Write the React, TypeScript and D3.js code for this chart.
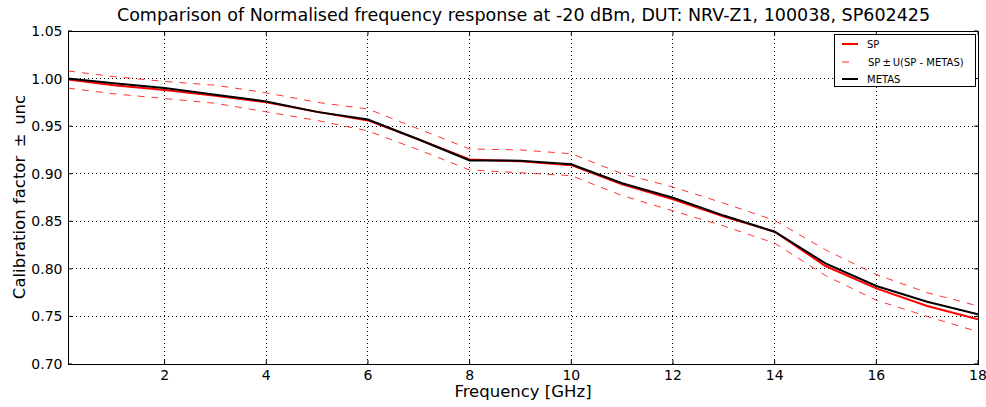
import React from "react";
import * as d3 from "d3";

const freqs = [0.1, 1, 2, 3, 4, 5, 6, 7, 8, 9, 10, 11, 12, 13, 14, 15, 16, 17, 18];
const spValues = [0.999, 0.993, 0.988, 0.982, 0.975, 0.965, 0.956, 0.936, 0.915, 0.913, 0.909, 0.889, 0.873, 0.855, 0.839, 0.803, 0.7795, 0.761, 0.747];
const metasValues = [1.0, 0.995, 0.990, 0.983, 0.976, 0.965, 0.957, 0.936, 0.914, 0.9137, 0.910, 0.890, 0.8748, 0.856, 0.839, 0.8058, 0.782, 0.7655, 0.7522];
const upperValues = [1.008, 1.002, 0.997, 0.993, 0.985, 0.975, 0.968, 0.947, 0.926, 0.925, 0.921, 0.900, 0.886, 0.869, 0.851, 0.820, 0.794, 0.775, 0.761];
const lowerValues = [0.990, 0.984, 0.979, 0.974, 0.965, 0.956, 0.945, 0.925, 0.904, 0.901, 0.898, 0.877, 0.861, 0.845, 0.827, 0.793, 0.767, 0.750, 0.734];
const xTicks = [2, 4, 6, 8, 10, 12, 14, 16, 18];
const yTicks = [0.7, 0.75, 0.8, 0.85, 0.9, 0.95, 1.0, 1.05];
const legendLabels = ["SP", "SP\u2009\u00b1\u2009U(SP - METAS)", "METAS"];

const W = 986;
const H = 407;
const L = 68, R = 978, T = 31, B = 364;
const FONT = "'DejaVu Sans', sans-serif";

export default function App() {
  const x = d3.scaleLinear().domain([0.1, 18]).range([L, R]);
  const y = d3.scaleLinear().domain([0.7, 1.05]).range([B, T]);
  const line = (vals: number[]) =>
    d3.line<number>().x((_, i) => x(freqs[i])).y((v) => y(v))(vals) || "";

  return (
    <svg width={W} height={H} style={{ position: "absolute", left: 0, top: 0, background: "#fff" }}>
      <rect x={0} y={0} width={W} height={H} fill="#fff" />
      <text x={523.5} y={21} textAnchor="middle" fontFamily={FONT} fontSize={17.5} fill="#000">
        Comparison of Normalised frequency response at -20 dBm, DUT: NRV-Z1, 100038, SP602425
      </text>
      {/* grid */}
      {xTicks.filter((t) => t < 18).map((t) => (
        <line key={"gx" + t} x1={x(t)} x2={x(t)} y1={T} y2={B} stroke="#000" strokeWidth={1} strokeDasharray="1,3" shapeRendering="crispEdges" />
      ))}
      {yTicks.filter((t) => t > 0.7 && t < 1.05).map((t) => (
        <line key={"gy" + t} x1={L} x2={R} y1={y(t)} y2={y(t)} stroke="#000" strokeWidth={1} strokeDasharray="1,3" shapeRendering="crispEdges" />
      ))}
      {/* data */}
      <g clipPath="url(#clip)">
        <path d={line(upperValues)} fill="none" stroke="#ff0000" strokeOpacity={0.8} strokeWidth={1} strokeDasharray="7,7" />
        <path d={line(lowerValues)} fill="none" stroke="#ff0000" strokeOpacity={0.8} strokeWidth={1} strokeDasharray="7,7" />
        <path d={line(spValues)} fill="none" stroke="#ff0000" strokeWidth={2} />
        <path d={line(metasValues)} fill="none" stroke="#000" strokeWidth={2} />
      </g>
      <defs>
        <clipPath id="clip">
          <rect x={L} y={T} width={R - L} height={B - T} />
        </clipPath>
      </defs>
      {/* ticks */}
      {xTicks.map((t) => (
        <g key={"tx" + t}>
          <line x1={x(t)} x2={x(t)} y1={B} y2={B - 4} stroke="#000" />
          <line x1={x(t)} x2={x(t)} y1={T} y2={T + 4} stroke="#000" />
          <text x={x(t)} y={380} textAnchor="middle" fontFamily={FONT} fontSize={14} fill="#000">{t}</text>
        </g>
      ))}
      {yTicks.map((t) => (
        <g key={"ty" + t}>
          <line x1={L} x2={L + 4} y1={y(t)} y2={y(t)} stroke="#000" />
          <line x1={R} x2={R - 4} y1={y(t)} y2={y(t)} stroke="#000" />
          <text x={62.5} y={y(t) + 5} textAnchor="end" fontFamily={FONT} fontSize={14} fill="#000">{t.toFixed(2)}</text>
        </g>
      ))}
      <rect x={L} y={T} width={R - L} height={B - T} fill="none" stroke="#000" strokeWidth={1} shapeRendering="crispEdges" />
      {/* axis labels */}
      <text x={523} y={397} textAnchor="middle" fontFamily={FONT} fontSize={16.5} fill="#000">Frequency [GHz]</text>
      <text transform="translate(25,197) rotate(-90)" textAnchor="middle" fontFamily={FONT} fontSize={16.5} fill="#000">
        Calibration factor {"\u2009\u00b1\u2009"} unc
      </text>
      {/* legend */}
      <rect x={834.5} y={34.5} width={141} height={52} fill="#fff" stroke="#000" strokeWidth={1} />
      <line x1={842} x2={858} y1={44} y2={44} stroke="#ff0000" strokeWidth={2} />
      <text x={867} y={48} fontFamily={FONT} fontSize={10} fill="#000">{legendLabels[0]}</text>
      <line x1={842} x2={849} y1={62} y2={62} stroke="#ff0000" strokeOpacity={0.8} strokeWidth={1} />
      <text x={868} y={66} fontFamily={FONT} fontSize={10} fill="#000">{legendLabels[1]}</text>
      <line x1={842} x2={858} y1={79} y2={79} stroke="#000" strokeWidth={2} />
      <text x={867} y={83} fontFamily={FONT} fontSize={10} fill="#000">{legendLabels[2]}</text>
    </svg>
  );
}
